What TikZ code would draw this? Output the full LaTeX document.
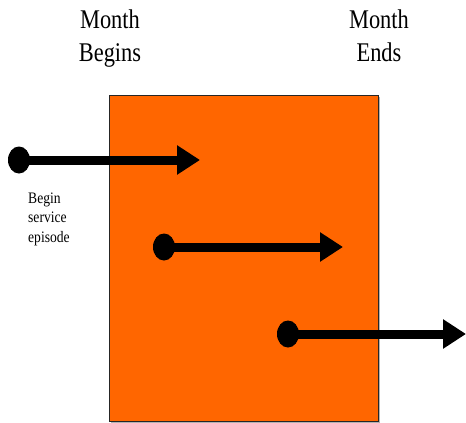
\documentclass[tikz,border=0pt]{standalone}
\usepackage{fontspec}
\setmainfont{Liberation Serif}
\newfontfamily\headfont[FakeStretch=0.83]{Liberation Serif}
\newfontfamily\notefont[FakeStretch=0.85]{Liberation Serif}
\usetikzlibrary{shapes.geometric,arrows.meta}
\definecolor{monthfill}{HTML}{FF6600}
\tikzset{
  heading/.style={align=center,inner sep=0pt,font=\headfont\fontsize{27}{33}\selectfont},
  note/.style={align=left,inner sep=0pt,font=\notefont\fontsize{16}{19.5}\selectfont},
  startdot/.style={ellipse,fill=black,inner sep=0pt,minimum width=22pt,minimum height=27pt},
  episode/.style={line width=9pt,-{Triangle[length=23pt,width=28pt]}},
}
\begin{document}
\begin{tikzpicture}[x=1pt,y=-1pt]
  \useasboundingbox (0,0) rectangle (466,423);
  % the month as a block, with a thin grey shadow
  \fill[gray!60] (111,97) rectangle (380,423);
  \node[draw=black!85,line width=1pt,fill=monthfill,inner sep=0pt,
        minimum width=269pt,minimum height=326pt,anchor=north west] (month) at (109,95) {};
  % headings (base anchor sits on the last line)
  \node[heading,anchor=base] (begins) at (110,61) {Month\\Begins};
  \node[heading,anchor=base] (ends) at (379,61) {Month\\Ends};
  % service episodes
  \node[startdot] (d1) at (19,160) {};
  \coordinate (e1) at (200,160);
  \draw[episode] (d1.center) -- (e1);
  \node[startdot] (d2) at (164,247) {};
  \coordinate (e2) at (343,247);
  \draw[episode] (d2.center) -- (e2);
  \node[startdot] (d3) at (288,334) {};
  \coordinate (e3) at (466,334);
  \draw[episode] (d3.center) -- (e3);
  % label of the first episode
  \node[note,anchor=base west] (lbl) at (28,242) {Begin\\service\\episode};
\end{tikzpicture}
\end{document}
